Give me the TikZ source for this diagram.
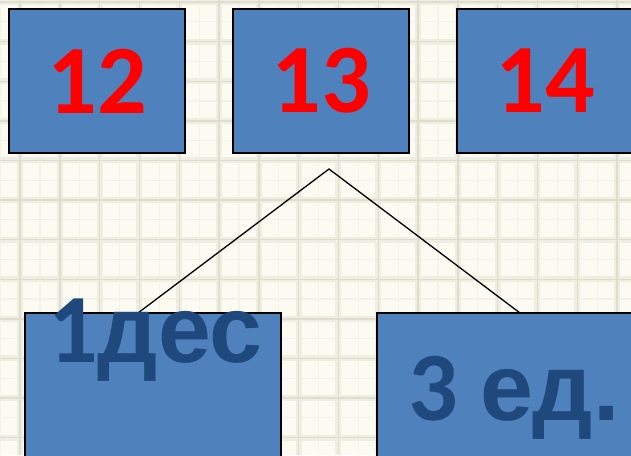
\documentclass[tikz,border=0pt]{standalone}
\usepackage{fontspec}
\setmainfont{Carlito}
\newfontfamily\cyrfont{Liberation Sans}
\definecolor{paper}{HTML}{FBFBF2}
\definecolor{gridA}{HTML}{EEEEE2}
\definecolor{gridB}{HTML}{DEDECE}
\definecolor{gridC}{HTML}{F3F3E9}
\definecolor{boxblue}{HTML}{4F81BD}
\definecolor{darkblue}{HTML}{1F497D}
\definecolor{numred}{HTML}{FF0000}
\tikzset{
  numbox/.style={draw=black, line width=1.8pt, fill=boxblue, minimum width=176pt, minimum height=144pt, inner sep=0pt, outer sep=0pt,
     font=\fontsize{98}{98}\selectfont\bfseries, text=numred},
  partbox/.style={draw=black, line width=1.8pt, fill=boxblue, minimum height=170pt, inner sep=0pt, outer sep=0pt},
  parttext/.style={font=\fontsize{98}{98}\selectfont\bfseries, text=darkblue, inner sep=0pt, anchor=base west},
  link/.style={draw=black, line width=1.3pt}
}
\newcommand{\cyr}[1]{{\cyrfont\fontsize{95}{95}\selectfont\bfseries #1}}
\begin{document}
\begin{tikzpicture}[x=1pt,y=-1pt]
\useasboundingbox (0,0) rectangle (631,455);
\clip (0,0) rectangle (631,455);
\fill[paper] (0,0) rectangle (631,455);
% minor grid
\foreach \k in {0,...,16}{
  \draw[gridC, line width=1.2pt] ({20+39.8*\k-19.9},0) -- ({20+39.8*\k-19.9},455);
}
\foreach \k in {0,...,12}{
  \draw[gridC, line width=1.2pt] (0,{2+39.6*\k+19.8}) -- (631,{2+39.6*\k+19.8});
}
% major grid (blurred)
\foreach \k in {0,...,15}{
  \draw[gridA, line width=6pt] ({20+39.8*\k},0) -- ({20+39.8*\k},455);
}
\foreach \k in {0,...,11}{
  \draw[gridA, line width=6pt] (0,{2+39.6*\k}) -- (631,{2+39.6*\k});
}
\foreach \k in {0,...,15}{
  \draw[gridB, line width=1.4pt] ({20+39.8*\k},0) -- ({20+39.8*\k},455);
}
\foreach \k in {0,...,11}{
  \draw[gridB, line width=1.4pt] (0,{2+39.6*\k}) -- (631,{2+39.6*\k});
}
% top boxes
\node[numbox] (n12) at (97,81) {\raisebox{-3pt}{12}};
\node[numbox] (n13) at (321,81) {\raisebox{-3pt}{13}};
\node[numbox] (n14) at (545,81) {\raisebox{-3pt}{14}};
% bottom boxes
\node[partbox, minimum width=256pt, anchor=north west] (tens) at (25,313) {};
\node[partbox, minimum width=264pt, anchor=north west] (ones) at (377,313) {};
% connectors
\coordinate (apex) at (329,169);
\coordinate (tensend) at (138,313);
\coordinate (onesend) at (520,313);
\draw[link] (tensend) -- (apex) -- (onesend);
% labels
\node[parttext] (tenslabel) at (48,362) {1\cyr{дес}};
\node[parttext] (oneslabel) at (408,420) {3 \cyr{ед.}};
\end{tikzpicture}
\end{document}
